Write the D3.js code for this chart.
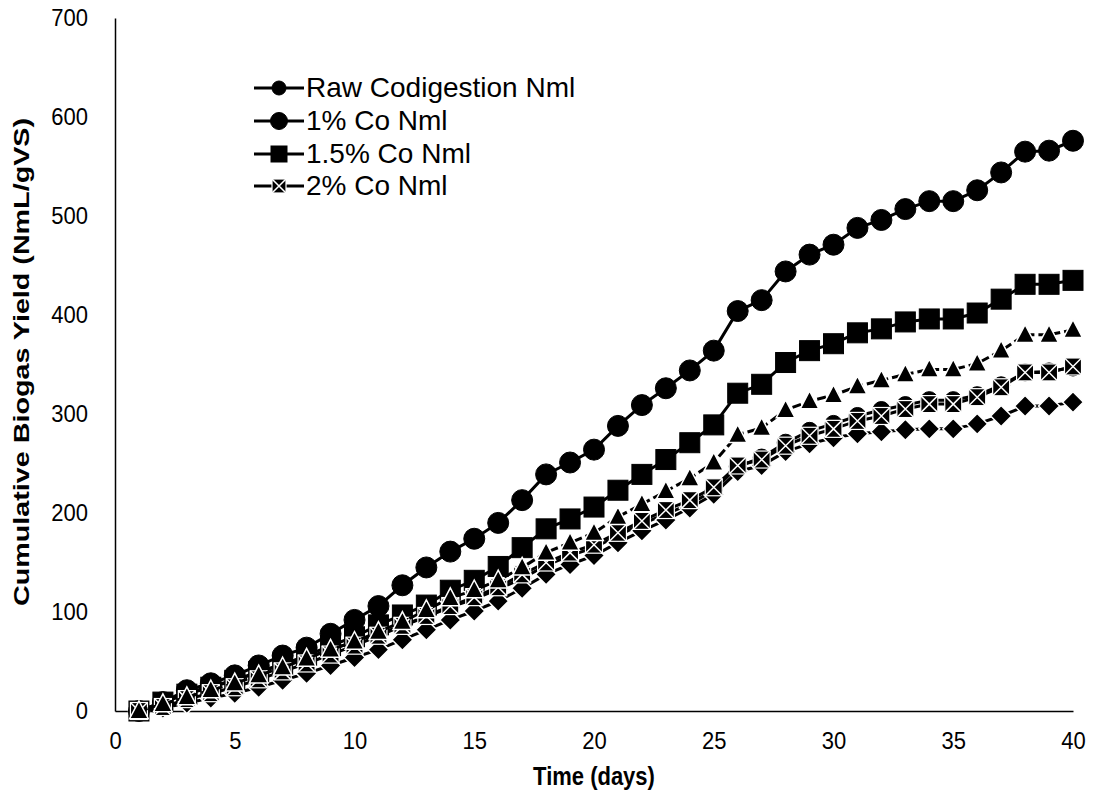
<!DOCTYPE html>
<html><head><meta charset="utf-8">
<script src="https://cdn.jsdelivr.net/npm/d3@7"></script>
<style>body{margin:0;background:#fff;} text{font-family:"Liberation Sans",Arial,sans-serif;}</style>
</head><body><svg id="c" width="1095" height="797"></svg>
<script>
const days = d3.range(1, 41);
const rawCodigestion = [0,8,18,25,31,39,47,54,62,70,78,86,95,105,113,123,134,147,157,165,177,189,199,209,223,247,256,271,283,290,298,304,309,314,314,319,329,342,343,347];
const co1 = [0,9,21,28,36,46,56,64,78,92,106,127,145,161,174,190,213,239,251,264,288,309,326,344,364,404,415,444,461,471,488,496,507,515,515,526,544,565,566,576];
const co15 = [0,9,17,24,31,40,47,56,66,75,87,97,107,122,132,146,165,184,194,206,223,239,254,271,289,321,330,352,364,371,382,386,393,396,396,402,416,431,431,435];
const co2 = [0,4,12,18,24,32,40,48,57,66,76,86,96,106,115,125,138,150,160,168,180,192,203,213,226,248,254,268,278,285,293,298,305,310,310,317,327,342,342,348];
const seriesTri = [0,7,14,21,28,36,44,53,62,70,80,90,102,114,122,132,145,160,170,180,196,209,222,235,251,279,286,304,313,319,328,334,340,345,345,351,364,380,380,385];
const seriesDiamond = [0,3,8,13,18,24,31,38,46,54,62,72,82,92,101,111,124,138,148,157,170,182,193,205,219,242,248,262,270,276,280,282,284,285,285,290,298,308,308,312];
const xTicks = [0,5,10,15,20,25,30,35,40];
const yTicks = [0,100,200,300,400,500,600,700];
const legendLabels = ["Raw Codigestion Nml","1% Co Nml","1.5% Co Nml","2% Co Nml"];

const svg = d3.select("#c");
const x = d3.scaleLinear().domain([0,40]).range([115,1073]);
const y = d3.scaleLinear().domain([0,700]).range([711,18]);
const FF = "Liberation Sans, Arial, sans-serif";

// axes
const yAxis = svg.append("g").attr("transform","translate(115,0)")
  .call(d3.axisLeft(y).tickValues(yTicks).tickSize(0).tickPadding(27));
yAxis.select(".domain").attr("stroke","#000").attr("stroke-width",1.5);
yAxis.selectAll("text").attr("font-size",22).attr("fill","#000").attr("font-family",FF)
  .attr("transform","scale(1,1.1)");
const xAxis = svg.append("g").attr("transform","translate(0,711)")
  .call(d3.axisBottom(x).tickValues(xTicks).tickSize(0).tickPadding(19));
xAxis.select(".domain").attr("stroke","#000").attr("stroke-width",1.5);
xAxis.selectAll("text").attr("font-size",22).attr("fill","#000").attr("font-family",FF)
  .attr("transform","scale(1,1.1)");

svg.append("text").attr("transform","translate(594,785) scale(1,1.15)").attr("text-anchor","middle")
  .attr("font-size",22).attr("font-weight","bold").text("Time (days)");
svg.append("text").attr("transform","translate(29,362) rotate(-90)").attr("text-anchor","middle")
  .attr("font-size",22).attr("font-weight","bold")
  .attr("textLength",488).attr("lengthAdjust","spacingAndGlyphs")
  .text("Cumulative Biogas Yield (NmL/gVS)");

const line = d3.line().x((d,i)=>x(days[i])).y(d=>y(d));

function drawMarker(g, shape, cx, cy, size, stroke){
  if(shape==="circle"){
    g.append("circle").attr("cx",cx).attr("cy",cy).attr("r",size/2).attr("fill","#000").attr("stroke",stroke).attr("stroke-width",1);
  } else if(shape==="square"){
    g.append("rect").attr("x",cx-size/2).attr("y",cy-size/2).attr("width",size).attr("height",size).attr("fill","#000").attr("stroke",stroke).attr("stroke-width",1);
  } else if(shape==="triangle"){
    const h=size;
    g.append("path").attr("d",`M${cx},${cy-h*0.6}L${cx+h*0.55},${cy+h*0.45}L${cx-h*0.55},${cy+h*0.45}Z`).attr("fill","#000").attr("stroke",stroke).attr("stroke-width",1.5);
  } else if(shape==="diamond"){
    const s=size/2;
    g.append("path").attr("d",`M${cx},${cy-s}L${cx+s},${cy}L${cx},${cy+s}L${cx-s},${cy}Z`).attr("fill","#000").attr("stroke",stroke).attr("stroke-width",1.5);
  } else if(shape==="xsquare"){
    const s=size/2;
    g.append("rect").attr("x",cx-s).attr("y",cy-s).attr("width",size).attr("height",size).attr("fill","#000").attr("stroke","#fff").attr("stroke-width",1.2);
    g.append("path").attr("d",`M${cx-s},${cy-s}L${cx+s},${cy+s}M${cx+s},${cy-s}L${cx-s},${cy+s}`).attr("stroke","#fff").attr("stroke-width",1.5);
  }
}

const series = [
  {data:rawCodigestion, shape:"circle", size:17, dash:null, stroke:"#000"},
  {data:seriesDiamond, shape:"diamond", size:21, dash:null, stroke:"#fff"},
  {data:co1, shape:"circle", size:21, dash:null, stroke:"#000"},
  {data:co15, shape:"square", size:20, dash:null, stroke:"#000"},
  {data:co2, shape:"xsquare", size:17, dash:null, stroke:"#fff"},
  {data:seriesTri, shape:"triangle", size:17, dash:"9,4", stroke:"#fff"}
];

series.forEach(s=>{
  const g = svg.append("g");
  g.append("path").datum(s.data).attr("d",line).attr("fill","none").attr("stroke","#000")
    .attr("stroke-width",3).attr("stroke-dasharray",s.dash);
  s.data.forEach((v,i)=>drawMarker(g, s.shape, x(days[i]), y(v), s.size, s.stroke));
});

// legend
const legShapes = [{shape:"circle",size:14,stroke:"#000"},{shape:"circle",size:17,stroke:"#000"},{shape:"square",size:16,stroke:"#000"},{shape:"xsquare",size:14,stroke:"#fff"}];
const legY = [88,121,154,186];
legendLabels.forEach((lab,i)=>{
  const g = svg.append("g");
  g.append("line").attr("x1",254).attr("x2",304).attr("y1",legY[i]).attr("y2",legY[i]).attr("stroke","#000").attr("stroke-width",3);
  drawMarker(g, legShapes[i].shape, 279, legY[i], legShapes[i].size, legShapes[i].stroke);
  g.append("text").attr("x",306).attr("y",legY[i]+9).attr("font-size",28).text(lab);
});
</script></body></html>
